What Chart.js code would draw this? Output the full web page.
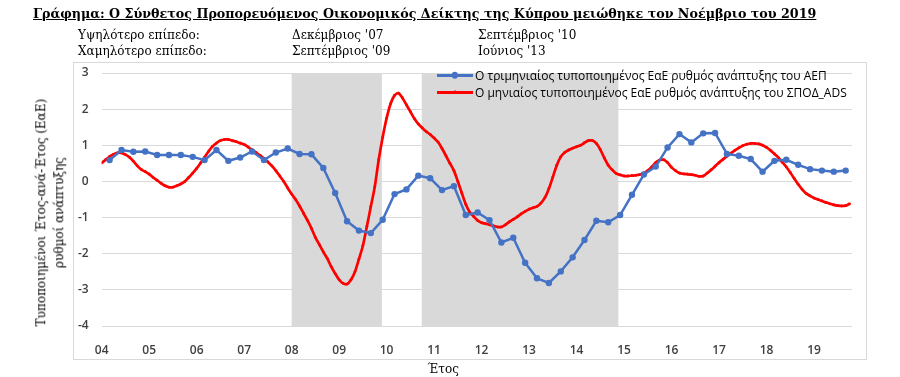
<!DOCTYPE html>
<html>
<head>
<meta charset="utf-8">
<script src="https://cdn.jsdelivr.net/npm/chart.js@4.4.1/dist/chart.umd.min.js"></script>
<style>
  html, body { margin: 0; padding: 0; background: #fff; }
  #wrap { position: relative; width: 900px; height: 377px; overflow: hidden; }
  #chart { position: absolute; left: 0; top: 0; }
  .serif { font-family: "DejaVu Serif", serif; color: #000; position: absolute; white-space: nowrap; }
  #title { left: 33px; top: 6px; font-size: 12.7px; font-weight: bold; text-decoration: underline; }
  .sub { font-size: 12px; }
  #frame { position: absolute; left: 73px; top: 62px; width: 792px; height: 296px; border: 1px solid #d9d9d9; }
  #ytitle { font-size: 12px; text-align: center; line-height: 17.6px; transform: rotate(-90deg); transform-origin: center center; }
  #legend { position: absolute; left: 437px; top: 67px; font-family: "Open Sans", sans-serif; font-size: 12px; color: #000; }
  .lg-row { height: 16.7px; display: flex; align-items: center; white-space: nowrap; }
  .lg-sw { position: relative; width: 36px; height: 10px; margin-right: 2px; }
  .lg-sw .ln { position: absolute; left: 0; right: 0; top: 4px; height: 2.5px; }
  .lg-sw .dt { position: absolute; left: 50%; top: 50%; border-radius: 50%; transform: translate(-50%, -50%); }
</style>
</head>
<body>
<div id="wrap">
  <div id="frame"></div>
  <canvas id="chart" width="900" height="377"></canvas>
  <div id="title" class="serif">Γράφημα: Ο Σύνθετος Προπορευόμενος Οικονομικός Δείκτης της Κύπρου μειώθηκε τον Νοέμβριο του 2019</div>
  <div class="serif sub" style="left:78px; top:28px;">Υψηλότερο επίπεδο:</div>
  <div class="serif sub" style="left:292px; top:28px;">Δεκέμβριος '07</div>
  <div class="serif sub" style="left:478px; top:28px;">Σεπτέμβριος '10</div>
  <div class="serif sub" style="left:78px; top:44px;">Χαμηλότερο επίπεδο:</div>
  <div class="serif sub" style="left:292px; top:44px;">Σεπτέμβριος '09</div>
  <div class="serif sub" style="left:478px; top:44px;">Ιούνιος '13</div>
  <div id="ytitle" class="serif">Τυποποιημένοι Έτος-ανά-Έτος (ΕαΕ)<br>ρυθμοί ανάπτυξης</div>
  <div class="serif sub" id="xtitle" style="font-size:12px;">Έτος</div>
  <div id="legend"></div>
</div>
<script>
// x axis labels, one per year from 2004
const yearTicks = ['04', '05', '06', '07', '08', '09', '10', '11', '12', '13', '14', '15', '16', '17', '18', '19'];
const firstYear = 2004;

// quarterly GDP growth, Q1 2004 .. Q3 2019
const gdpQuarterly = [
  0.59, 0.87, 0.82, 0.83, 0.73, 0.73, 0.73, 0.68, 0.59, 0.87,
  0.57, 0.66, 0.83, 0.59, 0.80, 0.91, 0.76, 0.75, 0.37, -0.32,
  -1.10, -1.36, -1.43, -1.06, -0.35, -0.22, 0.16, 0.09, -0.24, -0.13,
  -0.93, -0.86, -1.07, -1.69, -1.56, -2.25, -2.68, -2.81, -2.49, -2.10,
  -1.62, -1.09, -1.13, -0.93, -0.37, 0.19, 0.41, 0.94, 1.31, 1.08,
  1.33, 1.34, 0.76, 0.71, 0.62, 0.27, 0.57, 0.60, 0.46, 0.34,
  0.30, 0.27, 0.30
];

// monthly composite leading indicator, Jan 2004 .. Oct 2019
const adsMonthly = [
  0.51, 0.60, 0.69, 0.75, 0.79, 0.79, 0.74, 0.67, 0.56, 0.43, 0.33, 0.27,
  0.20, 0.11, 0.03, -0.05, -0.12, -0.16, -0.16, -0.12, -0.07, 0.00, 0.11, 0.23,
  0.36, 0.51, 0.67, 0.83, 0.97, 1.06, 1.13, 1.16, 1.16, 1.13, 1.10, 1.06,
  1.02, 0.95, 0.87, 0.80, 0.72, 0.64, 0.54, 0.43, 0.30, 0.15, 0.00, -0.18,
  -0.35, -0.50, -0.68, -0.88, -1.08, -1.30, -1.55, -1.75, -1.95, -2.13, -2.36, -2.55,
  -2.72, -2.82, -2.84, -2.72, -2.50, -2.15, -1.78, -1.25, -0.70, -0.15, 0.60, 1.22,
  1.75, 2.15, 2.38, 2.44, 2.31, 2.12, 1.93, 1.74, 1.59, 1.48, 1.38, 1.30,
  1.20, 1.09, 0.91, 0.71, 0.50, 0.30, 0.00, -0.32, -0.63, -0.85, -0.97, -1.08,
  -1.14, -1.17, -1.20, -1.23, -1.26, -1.26, -1.20, -1.12, -1.05, -0.98, -0.90, -0.83,
  -0.77, -0.73, -0.69, -0.60, -0.45, -0.20, 0.12, 0.45, 0.68, 0.80, 0.87, 0.92,
  0.96, 1.00, 1.07, 1.13, 1.13, 1.05, 0.88, 0.65, 0.45, 0.32, 0.22, 0.18,
  0.15, 0.15, 0.16, 0.17, 0.19, 0.23, 0.30, 0.40, 0.52, 0.59, 0.60, 0.52,
  0.39, 0.30, 0.23, 0.21, 0.20, 0.19, 0.17, 0.14, 0.15, 0.23, 0.32, 0.42,
  0.52, 0.61, 0.70, 0.78, 0.86, 0.93, 0.99, 1.03, 1.05, 1.05, 1.04, 1.00,
  0.94, 0.86, 0.76, 0.66, 0.53, 0.40, 0.25, 0.08, -0.08, -0.22, -0.33, -0.40,
  -0.46, -0.50, -0.54, -0.58, -0.62, -0.65, -0.67, -0.68, -0.67, -0.62
];

// shaded periods, in years
const recessionBands = [[2008.0, 2009.9], [2010.74, 2014.88]];

const seriesLabels = [
  'Ο τριμηνιαίος τυποποιημένος ΕαΕ ρυθμός ανάπτυξης του ΑΕΠ',
  'Ο μηνιαίος τυποποιημένος ΕαΕ ρυθμός ανάπτυξης του ΣΠΟΔ_ADS'
];

const gdpPoints = gdpQuarterly.map((v, q) => ({ x: firstYear + (q * 3 + 2) / 12, y: v }));
const adsPoints = adsMonthly.map((v, m) => ({ x: firstYear + m / 12, y: v }));

const bandPlugin = {
  id: 'bands',
  beforeDatasetsDraw(chart) {
    const { ctx, chartArea, scales } = chart;
    ctx.save();
    ctx.fillStyle = '#d9d9d9';
    recessionBands.forEach(([a, b]) => {
      const x1 = scales.x.getPixelForValue(a);
      const x2 = scales.x.getPixelForValue(b);
      ctx.fillRect(x1, chartArea.top, x2 - x1, chartArea.bottom - chartArea.top);
    });
    ctx.restore();
  }
};

const chart = new Chart(document.getElementById('chart'), {
  type: 'line',
  data: {
    datasets: [
      {
        label: seriesLabels[0],
        data: gdpPoints,
        borderColor: '#4472c4',
        backgroundColor: '#4472c4',
        borderWidth: 2.5,
        pointRadius: 3.2,
        pointBorderWidth: 0,
        tension: 0
      },
      {
        label: seriesLabels[1],
        data: adsPoints,
        borderColor: '#ff0000',
        backgroundColor: '#ff0000',
        borderWidth: 2.7,
        pointRadius: 1.4,
        pointBorderWidth: 0,
        tension: 0.3
      }
    ]
  },
  options: {
    responsive: false,
    animation: false,
    events: [],
    layout: { padding: { left: 0, right: 48, top: 73, bottom: 21 } },
    plugins: {
      legend: { display: false },
      tooltip: { enabled: false }
    },
    scales: {
      x: {
        type: 'linear',
        min: firstYear,
        max: 2019.8,
        afterFit: (s) => { s.height = 30; },
        grid: { display: false },
        border: { display: false },
        ticks: {
          stepSize: 1,
          includeBounds: false,
          autoSkip: false,
          maxRotation: 0,
          padding: 9,
          color: '#404040',
          font: { family: 'Open Sans', size: 12, weight: '600' },
          callback: (v) => yearTicks[v - firstYear]
        }
      },
      y: {
        min: -4,
        max: 3,
        afterFit: (s) => { s.width = 101.7; },
        grid: { color: '#d9d9d9', lineWidth: 1, drawTicks: false },
        border: { display: false },
        ticks: {
          stepSize: 1,
          padding: 13,
          color: '#404040',
          font: { family: 'Open Sans', size: 12, weight: '600' }
        }
      }
    }
  },
  plugins: [bandPlugin]
});

// legend built from the datasets
const legend = document.getElementById('legend');
chart.data.datasets.forEach((ds) => {
  const row = document.createElement('div');
  row.className = 'lg-row';
  const dot = ds.pointRadius * 2;
  row.innerHTML = '<span class="lg-sw"><span class="ln" style="background:' + ds.borderColor + '"></span>' +
    '<span class="dt" style="width:' + dot + 'px;height:' + dot + 'px;background:' + ds.borderColor + '"></span></span>' +
    '<span>' + ds.label + '</span>';
  legend.appendChild(row);
});

// axis titles placed like the original
const yt = document.getElementById('ytitle');
yt.style.left = (51 - yt.offsetWidth / 2) + 'px';
yt.style.top = (212 - yt.offsetHeight / 2) + 'px';
const xt = document.getElementById('xtitle');
xt.style.left = (443 - xt.offsetWidth / 2) + 'px';
xt.style.top = '362px';
</script>
</body>
</html>
